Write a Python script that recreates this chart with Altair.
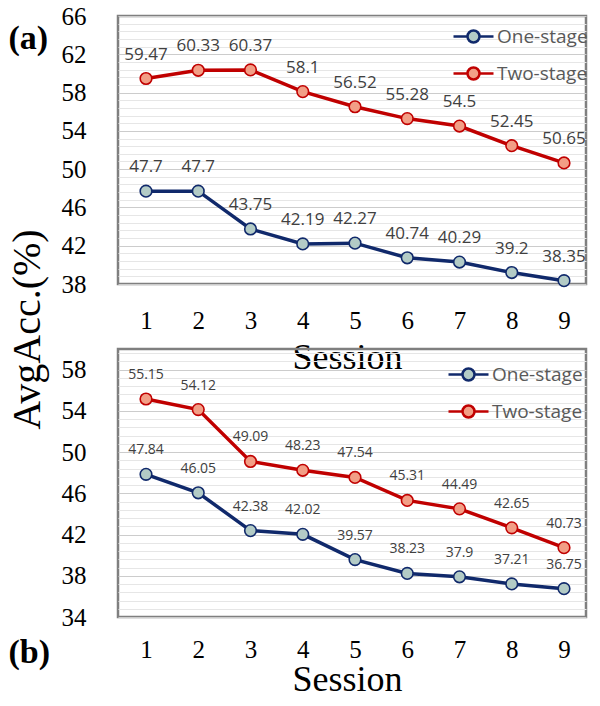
import altair as alt
import pandas as pd

sessions = [1, 2, 3, 4, 5, 6, 7, 8, 9]
series_names = ["One-stage", "Two-stage"]

one_a = [47.7, 47.7, 43.75, 42.19, 42.27, 40.74, 40.29, 39.2, 38.35]
two_a = [59.47, 60.33, 60.37, 58.1, 56.52, 55.28, 54.5, 52.45, 50.65]
one_b = [47.84, 46.05, 42.38, 42.02, 39.57, 38.23, 37.9, 37.21, 36.75]
two_b = [55.15, 54.12, 49.09, 48.23, 47.54, 45.31, 44.49, 42.65, 40.73]

line_colors = ["#10296b", "#c00000"]
fill_colors = ["#b3cbc6", "#f29e86"]

SERIF = "Liberation Serif"
SANS = "Open Sans"

PLOT_W = 468
PLOT_H = 268

# legend symbol: line with a circle in the middle (custom path)
LEG_PATH = ("M-3,0L-1.6,0M-0.4,0L1,0"
            "M-0.4,0A0.6,0.6,0,1,1,-1.6,0A0.6,0.6,0,1,1,-0.4,0Z")


def panel(one, two, ymin, ymax, lab_size, leg_x, leg_y, tag, tag_y, with_ytitle,
          title_y, xlab_pad):
    df = pd.DataFrame({
        "Session": sessions * 2,
        "Acc": one + two,
        "Label": [str(v) for v in one + two],
        "Series": [series_names[0]] * 9 + [series_names[1]] * 9,
    })
    n_minor = int(round((ymax - ymin) / 0.8))
    yvals = [round(ymin + 0.8 * k, 2) for k in range(n_minor + 1)]
    major_test = f"abs((datum.value - {ymin}) / 4 - round((datum.value - {ymin}) / 4)) < 0.01"
    yscale = alt.Scale(domain=[ymin, ymax], nice=False, zero=False)

    x = alt.X(
        "Session:Q",
        scale=alt.Scale(domain=[0.464, 9.421], nice=False, zero=False),
        axis=alt.Axis(
            values=sessions, grid=False, domain=False, ticks=False, tickSize=0,
            labelFont=SERIF, labelFontSize=25, labelColor="black",
            labelPadding=xlab_pad, labelBaseline="alphabetic",
            title="Session", titleFont=SERIF, titleFontSize=36,
            titleFontWeight="normal", titleColor="black",
            titleX=229, titleY=title_y, titleBaseline="alphabetic", titleAlign="center",
        ),
    )
    y_main = alt.Y(
        "Acc:Q", scale=yscale,
        axis=alt.Axis(
            values=yvals, domain=False, ticks=False, tickSize=0,
            labelFont=SERIF, labelFontSize=25, labelColor="black", labelPadding=32,
            labelExpr=f"({major_test}) ? datum.label : ''", labelOverlap=False,
            labelBaseline="middle",
            gridColor={"condition": {"test": major_test, "value": "#cccccc"}, "value": "#e6e6e6"},
            gridWidth=1,
            title=tag, titleFont=SERIF, titleFontSize=34, titleFontWeight="bold",
            titleColor="black", titleAngle=0, titleX=-110, titleY=tag_y,
            titleAlign="left", titleBaseline="alphabetic",
        ),
    )
    if with_ytitle:
        y_pts = alt.Y("Acc:Q", scale=yscale, axis=None)
        y_text = alt.Y(
            "Acc:Q", scale=yscale,
            axis=alt.Axis(
                orient="left", labels=False, grid=False, ticks=False, domain=False,
                title="AvgAcc.(%)", titleFont=SERIF, titleFontSize=40, titleFontWeight="normal",
                titleColor="black", titleAngle=270, titleX=-91, titleY=313,
                titleAlign="center", titleBaseline="middle",
            ),
        )
    else:
        y_pts = y_main
        y_text = y_main

    leg = alt.Legend(
        title=None, orient="none", legendX=leg_x, legendY=leg_y,
        symbolType=LEG_PATH, symbolSize=400, symbolStrokeWidth=2.5,
        labelFont=SANS, labelFontSize=19, labelColor="#595959", labelOffset=2,
        rowPadding=14, padding=0,
    )
    stroke_scale = alt.Scale(domain=series_names, range=line_colors)
    fill_scale = alt.Scale(domain=series_names, range=fill_colors)

    base = alt.Chart(df)
    lines = base.mark_line(strokeWidth=3.5).encode(
        x=x, y=y_main, stroke=alt.Stroke("Series:N", scale=stroke_scale, legend=leg),
    )
    pts = base.mark_point(shape="circle", filled=True, size=135, strokeWidth=1.6, opacity=1).encode(
        x=x, y=y_pts,
        fill=alt.Fill("Series:N", scale=fill_scale, legend=leg),
        stroke=alt.Stroke("Series:N", scale=stroke_scale, legend=leg),
    )
    txt = base.mark_text(font=SANS, fontSize=lab_size, color="#404040", dy=-24).encode(
        x=x, y=y_text, text="Label:N",
    )
    layered = alt.layer(lines, pts, txt).properties(width=PLOT_W, height=PLOT_H)
    if with_ytitle:
        layered = layered.resolve_axis(y="independent")
    return layered


top = panel(one_a, two_a, 38, 66, 17, 354, 9, "(a)", 32, True, 84, 44)
bottom = panel(one_b, two_b, 34, 60, 14, 349, 14, "(b)", 313, False, 73, 40)

chart = alt.vconcat(top, bottom, spacing=65, bounds="flush").resolve_scale(
    stroke="independent", fill="independent", x="independent", y="independent"
).configure_view(
    stroke="#7f7f7f", strokeWidth=2.5
).properties(padding={"top": -6, "left": -3, "right": -1, "bottom": -7}, background="white")

chart.save("out.html", embed_options={"renderer": "svg", "actions": False})
